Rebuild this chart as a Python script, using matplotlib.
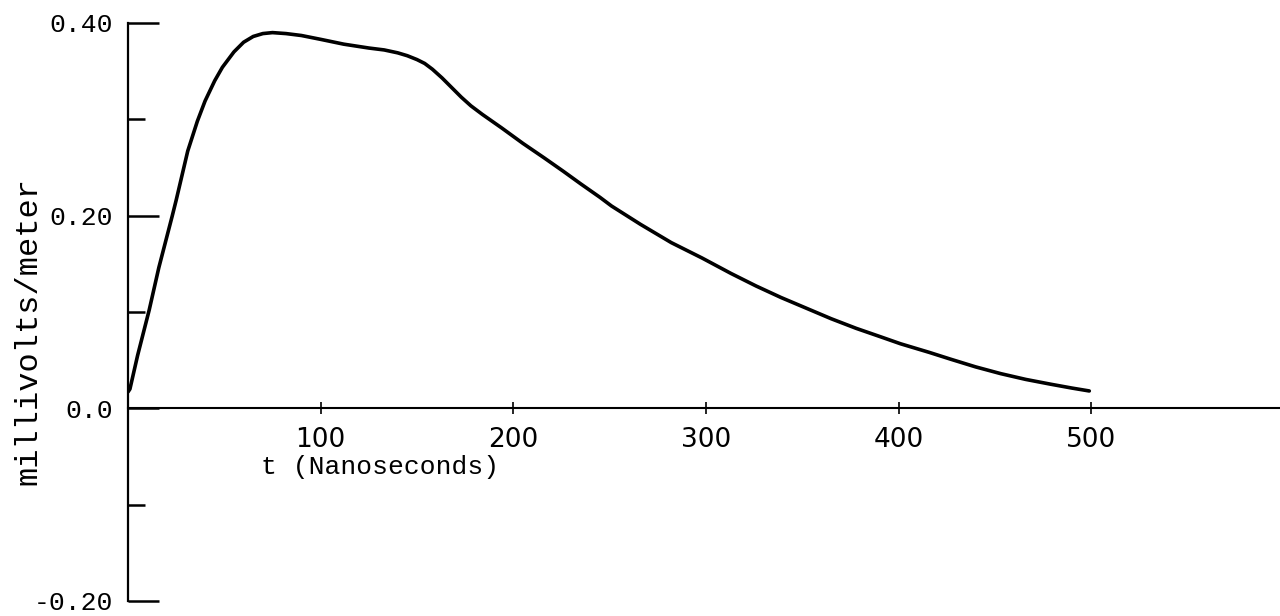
import matplotlib.pyplot as plt

# curve (t in ns, field in mV/m)
t = [0, 1, 5, 11, 16, 23, 25, 31, 36, 40, 45, 49, 55, 60, 65, 70, 75, 82, 90,
     100, 112, 125, 133, 140, 145, 150, 154, 158, 163, 168, 173, 178, 184, 194,
     205, 216, 226, 235, 245, 251, 266, 282, 298, 313, 326, 339, 352, 365, 378,
     391, 401, 416, 427, 440, 453, 466, 479, 490, 499]
v = [0.017, 0.02, 0.055, 0.102, 0.146, 0.20, 0.216, 0.267, 0.298, 0.319, 0.340,
     0.354, 0.370, 0.380, 0.386, 0.389, 0.390, 0.389, 0.387, 0.383, 0.378, 0.374,
     0.372, 0.369, 0.366, 0.362, 0.358, 0.352, 0.343, 0.333, 0.323, 0.314, 0.305,
     0.291, 0.275, 0.260, 0.246, 0.233, 0.219, 0.210, 0.191, 0.172, 0.156, 0.140,
     0.127, 0.115, 0.104, 0.093, 0.083, 0.074, 0.067, 0.058, 0.051, 0.043, 0.036,
     0.030, 0.025, 0.021, 0.018]

xticks = [100, 200, 300, 400, 500]
xlabels = ["100", "200", "300", "400", "500"]
yticks = [-0.20, 0.0, 0.20, 0.40]
ylabels = ["-0.20", "0.0", "0.20", "0.40"]
yminor = [-0.10, 0.10, 0.30]

mono = "Liberation Mono"

fig = plt.figure(figsize=(12.8, 6.16), dpi=100)
ax = fig.add_axes([0.1, 0.0244, 0.9, 0.9383])

ax.plot(t, v, color="black", lw=2.6, solid_capstyle="round",
        solid_joinstyle="round")

ax.set_xlim(0, 598)
ax.set_ylim(-0.20, 0.40)

for s in ["top", "right"]:
    ax.spines[s].set_visible(False)
ax.spines["bottom"].set_position(("data", 0))
ax.spines["left"].set_position(("data", 0))
ax.spines["bottom"].set_linewidth(1.5)
ax.spines["left"].set_linewidth(1.6)

ax.set_xticks(xticks, xlabels, fontsize=19, family="DejaVu Sans")
ax.tick_params(axis="x", direction="inout", length=9, width=1.2, pad=9)

ax.set_yticks(yticks, ylabels, fontsize=19, family=mono)
ax.set_yticks(yminor, minor=True)
ax.tick_params(axis="y", which="major", direction="in", length=22, width=1.8, pad=11)
ax.tick_params(axis="y", which="minor", direction="in", length=12, width=1.8)

ax.text(0.219, 0.232, "t (Nanoseconds)", transform=ax.transAxes,
        ha="center", va="center", fontsize=19, family=mono)
fig.text(0.022, 0.463, "millivolts/meter", rotation=90, ha="center",
         va="center", fontsize=23, family=mono)

fig.savefig("out.png", dpi=100)
